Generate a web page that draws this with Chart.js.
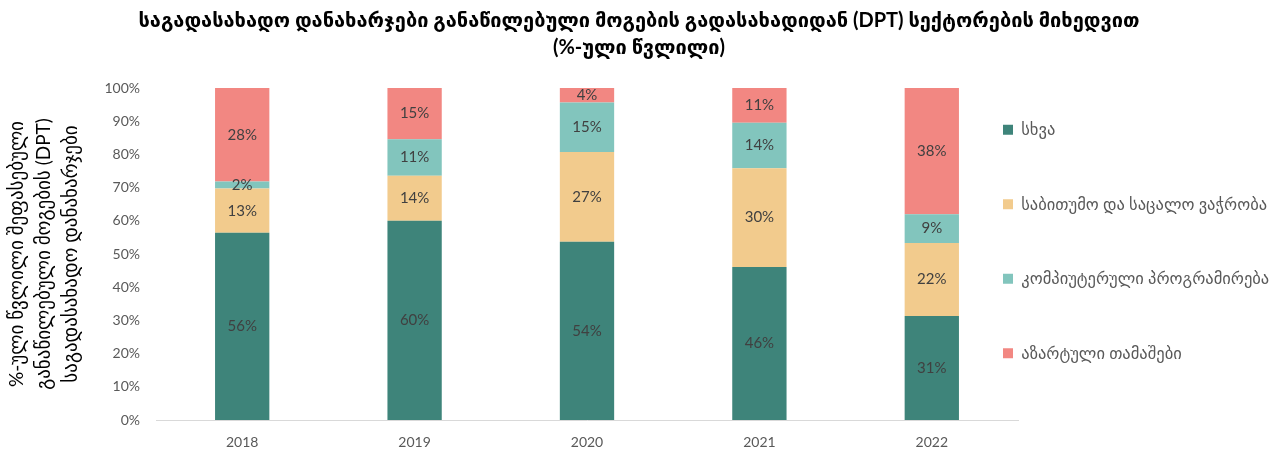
<!DOCTYPE html>
<html>
<head>
<meta charset="utf-8">
<script src="https://cdn.jsdelivr.net/npm/chart.js@4"></script>
<style>
  html, body { margin: 0; padding: 0; background: #fff; }
  #wrap { width: 1278px; height: 455px; }
</style>
</head>
<body>
<div id="wrap"><canvas id="dptChart" width="1278" height="455"></canvas></div>
<script>
// years on the x axis
const years = ['2018', '2019', '2020', '2021', '2022'];

// share of each sector, %
const other = [56.4, 60.0, 53.7, 46.1, 31.3];
const trade = [13.3, 13.6, 27.0, 29.7, 22.0];
const programming = [2.1, 11.0, 14.9, 13.7, 8.7];
const gambling = [28.2, 15.4, 4.4, 10.5, 38.0];

const seriesNames = ['სხვა', 'საბითუმო და საცალო ვაჭრობა', 'კომპიუტერული პროგრამირება', 'აზარტული თამაშები'];
const seriesColors = ['#3e847a', '#f2cb8d', '#82c5bd', '#f28782'];

const yTicks = [0, 10, 20, 30, 40, 50, 60, 70, 80, 90, 100];

const titleLines = ['საგადასახადო დანახარჯები განაწილებული მოგების გადასახადიდან (DPT) სექტორების მიხედვით', '(%-ული წვლილი)'];
const yTitleLines = ['%-ული წვლილი შეფასებული', 'განაწილებული მოგების (DPT)', 'საგადასახადო დანახარჯები'];

const FONT = 'Lato, "DejaVu Sans", sans-serif';
const LEGEND_PAD = 58;

// values inside the bars
const barLabels = {
  id: 'barLabels',
  afterDatasetsDraw(chart) {
    const ctx = chart.ctx;
    ctx.save();
    ctx.font = '15px ' + FONT;
    ctx.fillStyle = '#404040';
    ctx.textAlign = 'center';
    ctx.textBaseline = 'middle';
    chart.data.datasets.forEach((ds, i) => {
      chart.getDatasetMeta(i).data.forEach((bar, j) => {
        const y = (bar.y + bar.base) / 2;
        ctx.fillText(Math.round(ds.data[j]) + '%', bar.x, y);
      });
    });
    ctx.restore();
  }
};

// legend sits next to the plot like in the excel original
const legendPlace = {
  id: 'legendPlace',
  beforeLayout(chart) {
    const lg = chart.legend;
    if (lg && !lg._patched) {
      const fit = lg.fit;
      lg.fit = function () { fit.call(this); this.width = 260; };
      lg._patched = true;
    }
  },
  afterLayout(chart) {
    const lg = chart.legend;
    lg.left = 1003 - LEGEND_PAD;
    lg.right = 1278;
    lg.top += 14;
    lg.bottom += 14;
  }
};

const datasets = [other, trade, programming, gambling].map((vals, i) => ({
  label: seriesNames[i],
  data: vals,
  backgroundColor: seriesColors[i],
  borderWidth: 0,
  barPercentage: 0.315,
  categoryPercentage: 1
}));

new Chart(document.getElementById('dptChart'), {
  type: 'bar',
  data: { labels: years, datasets: datasets },
  plugins: [barLabels, legendPlace],
  options: {
    responsive: false,
    animation: false,
    layout: { padding: { left: 0, right: 0, top: 0, bottom: 0 } },
    plugins: {
      title: {
        display: true,
        text: titleLines,
        color: '#000',
        font: { family: FONT, size: 20, weight: 'bold', lineHeight: 1.35 },
        padding: { top: 7, bottom: 27 }
      },
      legend: {
        position: 'right',
        align: 'center',
        labels: {
          boxWidth: 10,
          boxHeight: 10,
          padding: LEGEND_PAD,
          color: '#595959',
          font: { family: FONT, size: 16.5 }
        }
      },
      tooltip: { enabled: false }
    },
    scales: {
      x: {
        stacked: true,
        grid: { display: false, drawTicks: false },
        border: { display: true, color: '#d9d9d9', width: 1 },
        ticks: { color: '#595959', font: { family: FONT, size: 14 }, padding: 14 },
        afterFit(scale) { scale.height = 35; }
      },
      y: {
        stacked: true,
        min: 0,
        max: 100,
        grid: { display: false, drawTicks: false },
        border: { display: false },
        afterBuildTicks(scale) { scale.ticks = yTicks.map(v => ({ value: v })); },
        ticks: {
          color: '#595959',
          font: { family: FONT, size: 14 },
          padding: 16,
          callback: v => v + '%'
        },
        title: {
          display: true,
          text: yTitleLines,
          color: '#000',
          font: { family: FONT, size: 19, lineHeight: 1.4 },
          padding: { top: 4, bottom: 0 }
        },
        afterFit(scale) { scale.width = 156; }
      }
    }
  }
});
</script>
</body>
</html>
